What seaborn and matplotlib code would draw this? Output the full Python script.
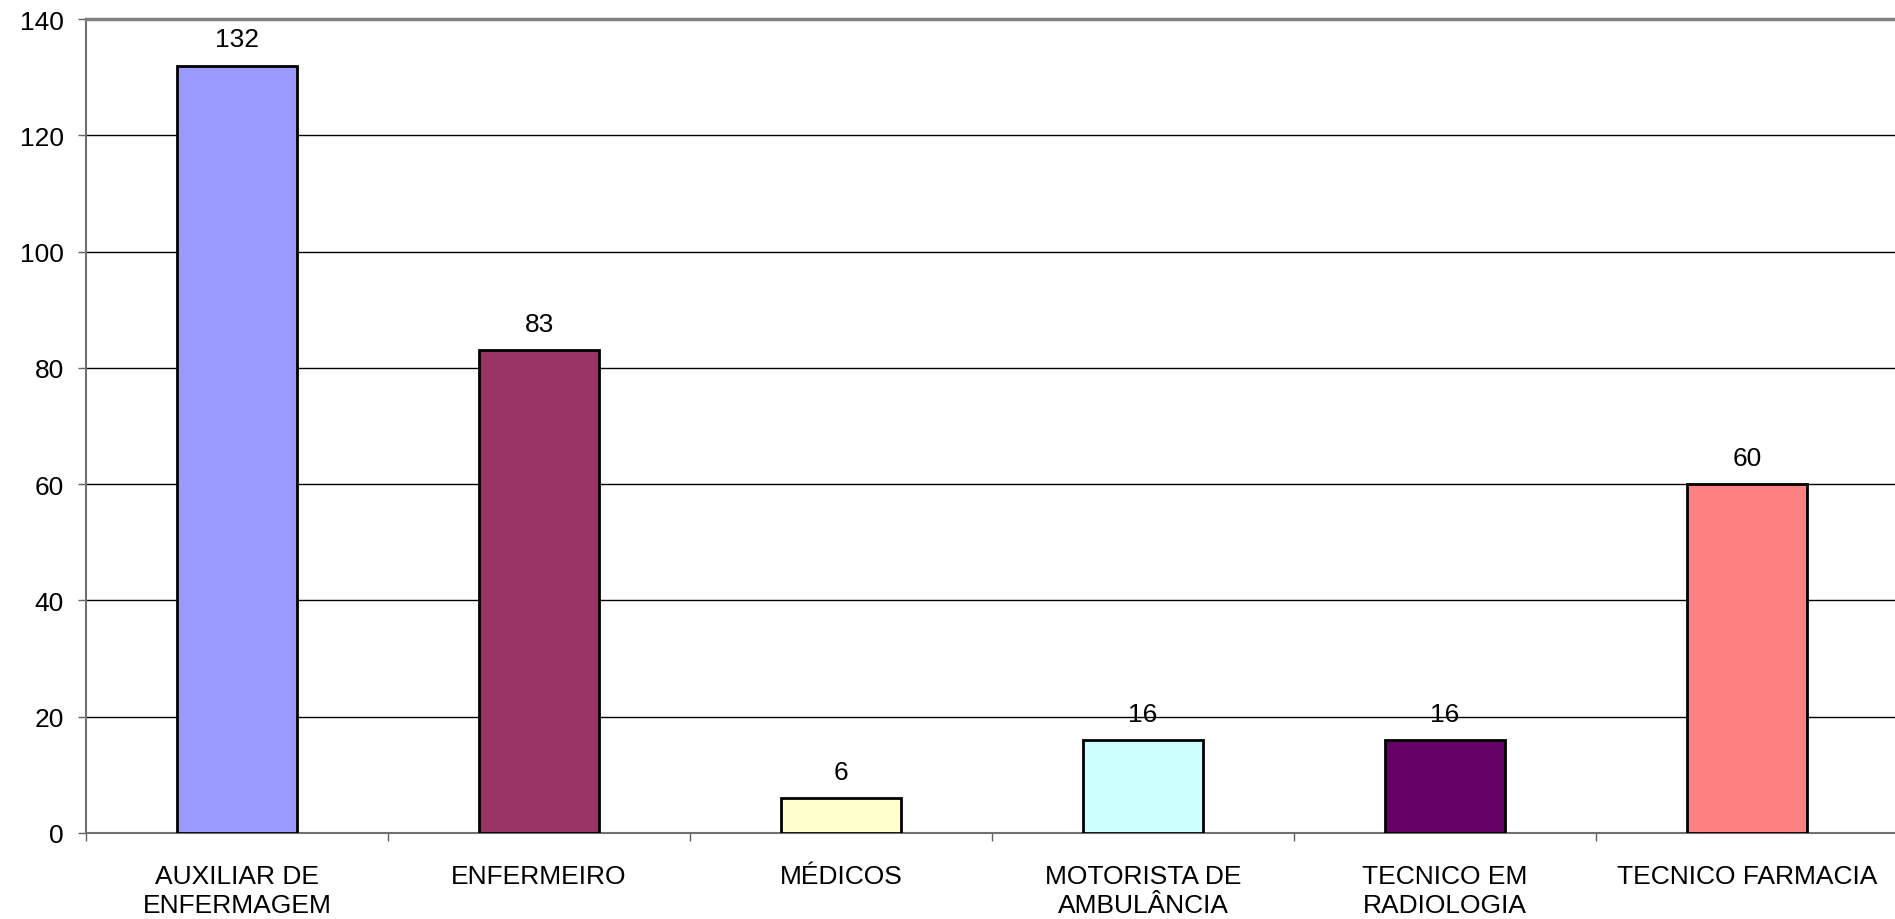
import matplotlib
matplotlib.use("Agg")
import matplotlib.pyplot as plt
import seaborn as sns
import pandas as pd
from matplotlib.ticker import FixedLocator

categories = ["AUXILIAR DE\nENFERMAGEM", "ENFERMEIRO", "MÉDICOS",
              "MOTORISTA DE\nAMBULÂNCIA", "TECNICO EM\nRADIOLOGIA", "TECNICO FARMACIA"]
values = [132, 83, 6, 16, 16, 60]
colors = ["#9999FF", "#993366", "#FFFFCC", "#CCFFFF", "#660066", "#FF8080"]
yticks = [0, 20, 40, 60, 80, 100, 120, 140]

sns.set_theme(style="white")
plt.rcParams['font.family'] = ['Liberation Sans', 'DejaVu Sans']
plt.rcParams['text.color'] = 'black'
plt.rcParams['xtick.labelcolor'] = 'black'
plt.rcParams['ytick.labelcolor'] = 'black'

FS = 19

df = pd.DataFrame({"cat": categories, "val": values})

fig = plt.figure(figsize=(18.95, 9.2), dpi=100)
ax = fig.add_axes([86/1895, (920-834)/920, (1898-86)/1895, (834-20)/920])

sns.barplot(data=df, x="cat", y="val", hue="cat", palette=colors, legend=False,
            width=0.4, edgecolor="black", linewidth=2, saturation=1, ax=ax, zorder=3)

ax.set_xlim(-0.5, len(categories) - 0.5)
ax.set_ylim(0, 140)
ax.set_yticks(yticks)
ax.set_yticklabels([str(t) for t in yticks], fontsize=FS)
ax.set_xlabel("")
ax.set_ylabel("")
ax.tick_params(axis="x", which="major", length=0, pad=22)
ax.xaxis.set_minor_locator(FixedLocator([i - 0.5 for i in range(len(categories) + 1)]))
ax.tick_params(axis="x", which="minor", length=6, width=1, color="#606060", direction="out", bottom=True)
ax.tick_params(axis="y", which="major", length=6, width=1, color="#606060", direction="out", left=True, pad=10)
for lbl in ax.get_xticklabels():
    lbl.set_linespacing(1.3)
    lbl.set_fontsize(FS)
    lbl.set_color('black')

ax.yaxis.grid(True, color="black", linewidth=1)
ax.xaxis.grid(False)
ax.set_axisbelow(True)

for s in ["left", "bottom"]:
    ax.spines[s].set_color("#707070")
    ax.spines[s].set_linewidth(1.5)
ax.spines["top"].set_color("#808080")
ax.spines["top"].set_linewidth(2.5)
ax.spines["right"].set_visible(False)

for i, v in enumerate(values):
    ax.annotate(str(v), xy=(i, v), xytext=(0, 19), textcoords="offset points",
                ha="center", va="center", fontsize=FS, color="black", zorder=5)

fig.savefig("out.png", dpi=100, facecolor="white")
